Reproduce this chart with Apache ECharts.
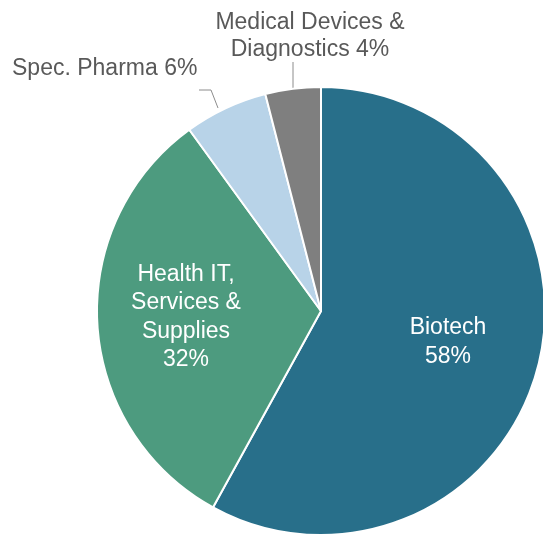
<!DOCTYPE html>
<html><head><meta charset="utf-8">
<script src="https://cdn.jsdelivr.net/npm/echarts@6/dist/echarts.min.js"></script>
<style>html,body{margin:0;padding:0;background:#fff}#c{width:543px;height:538px}</style>
</head><body><div id="c"></div>
<script>
const categories = ['Biotech', 'Health IT,\nServices &\nSupplies', 'Spec. Pharma', 'Medical Devices &\nDiagnostics'];
const values = [58, 32, 6, 4];
const colors = ['#286f8a', '#4d9b7f', '#b8d3e8', '#7f7f7f'];

const labelPos = [
  {x: 448, y: 342, align: 'center'},
  {x: 186, y: 317, align: 'center'},
  {x: 12, y: 69, align: 'left', line: [[199, 90], [211, 90], [218, 108]]},
  {x: 310, y: 36, align: 'center', line: [[293, 62], [293, 88]]}
];
const FONT = "'Liberation Sans', Arial, sans-serif";

const chart = echarts.init(document.getElementById('c'));
chart.setOption({
  animation: false,
  series: [{
    type: 'pie',
    center: [321, 311],
    radius: 224,
    startAngle: 90,
    clockwise: true,
    avoidLabelOverlap: false,
    itemStyle: {borderColor: '#fff', borderWidth: 2},
    data: categories.map((c, i) => ({
      name: c, value: values[i],
      itemStyle: {color: colors[i]},
      label: i < 2 ? {
        show: true, position: 'inside', color: '#fff', fontSize: 23,
        fontFamily: FONT, lineHeight: 28.5,
        formatter: '{b}\n{d}%'
      } : {
        show: true, position: 'outside', color: '#595959', fontSize: 23,
        fontFamily: FONT, lineHeight: 27,
        formatter: '{b} {d}%'
      },
      labelLine: i < 2 ? {show: false} : {show: true, lineStyle: {color: '#8c8c8c', width: 1}}
    })),
    labelLayout: function (p) {
      const lp = labelPos[p.dataIndex];
      const r = {x: lp.x, y: lp.y, align: lp.align, verticalAlign: 'middle'};
      if (lp.line) r.labelLinePoints = lp.line;
      return r;
    }
  }]
});
</script></body></html>
